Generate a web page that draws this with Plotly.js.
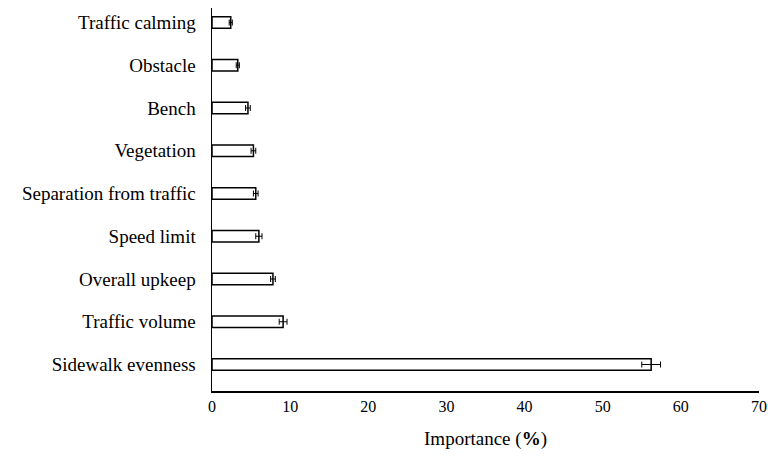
<!DOCTYPE html>
<html>
<head>
<meta charset="utf-8">
<script src="https://cdn.plot.ly/plotly-3.0.1.min.js"></script>
<style>html,body{margin:0;padding:0;background:#fff;}#chart{width:768px;height:461px;}</style>
</head>
<body>
<div id="chart"></div>
<script>
var categories = ["Sidewalk evenness", "Traffic volume", "Overall upkeep", "Speed limit", "Separation from traffic", "Vegetation", "Bench", "Obstacle", "Traffic calming"];
var importance = [56.2, 9.1, 7.8, 6.0, 5.6, 5.3, 4.6, 3.3, 2.4];
var errors = [1.2, 0.5, 0.3, 0.4, 0.3, 0.3, 0.3, 0.2, 0.2];
var xTicks = [0, 10, 20, 30, 40, 50, 60, 70];

var FONT = "'Liberation Serif', 'Times New Roman', Times, 'DejaVu Serif', serif";

var trace = {
  type: "bar",
  orientation: "h",
  y: categories,
  x: importance,
  width: 0.27,
  marker: {color: "#ffffff", line: {color: "#000000", width: 1.5}},
  error_x: {type: "data", array: errors, visible: true, color: "#000000", thickness: 1, width: 3},
  hoverinfo: "x+y"
};

var layout = {
  width: 768, height: 461,
  margin: {l: 212, r: 9, t: 8, b: 70},
  paper_bgcolor: "#ffffff", plot_bgcolor: "#ffffff",
  font: {family: FONT, color: "#000000"},
  showlegend: false,
  xaxis: {
    range: [0, 70], tickvals: xTicks, ticktext: xTicks.map(String),
    showgrid: false, zeroline: false, showline: true, linecolor: "#000000", linewidth: 1.5,
    ticks: "", tickfont: {family: FONT, size: 16}, ticklabelstandoff: 0,
    title: {text: "Importance (<b>%</b>)", font: {family: FONT, size: 19}, standoff: 18}
  },
  yaxis: {
    type: "category", range: [-0.62, 8.34],
    showgrid: false, zeroline: false, showline: true, linecolor: "#000000", linewidth: 1.5,
    ticks: "", tickfont: {family: FONT, size: 19}, ticklabelstandoff: 11
  }
};

Plotly.newPlot("chart", [trace], layout, {displayModeBar: false, staticPlot: true});
</script>
</body>
</html>
